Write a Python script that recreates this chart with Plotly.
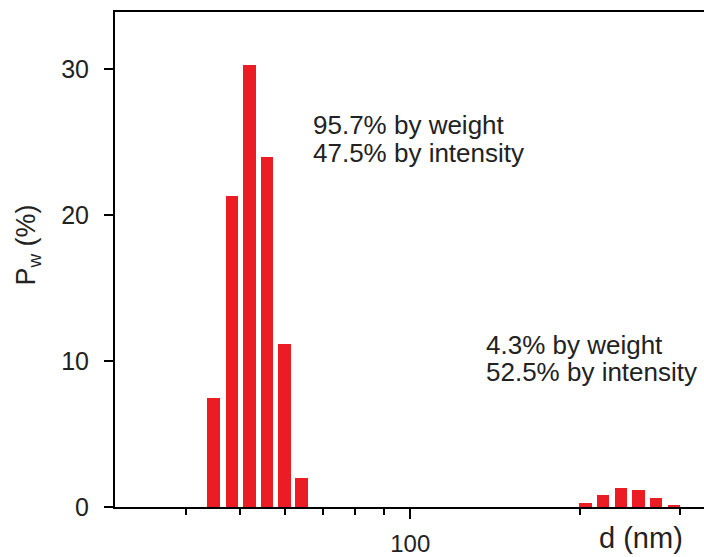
import numpy as np
import plotly.graph_objects as go

# Data: bin centres (nm) and weight fraction P_w (%)
d_main = [44.8, 48.3, 51.9, 55.8, 59.9, 64.2]
pw_main = [7.5, 21.3, 30.3, 24.0, 11.2, 2.0]
d_large = [204.3, 219.5, 236.2, 253.8, 272.5, 293.3]
pw_large = [0.3, 0.85, 1.3, 1.15, 0.65, 0.15]

x_major_ticks = [100]
x_major_labels = ["100"]
x_minor_ticks = [40, 50, 60, 70, 80, 90, 200, 300]
y_ticks = [0, 10, 20, 30]

W, H = 704, 557
ML, MR, MT, MB = 115, 0, 12, 47
PW, PH = W - ML - MR, H - MT - MB


def px(xp):
    return (xp - ML) / PW


def py(yp):
    return (H - MB - yp) / PH


RED = "#ec1c24"
FONT = "Liberation Sans, Arial, sans-serif"
bar_w = 0.0222

fig = go.Figure()
fig.add_trace(go.Bar(x=np.log10(d_main), y=pw_main, width=bar_w,
                     marker=dict(color=RED, line=dict(width=0)), showlegend=False))
fig.add_trace(go.Bar(x=np.log10(d_large), y=pw_large, width=bar_w,
                     marker=dict(color=RED, line=dict(width=0)), showlegend=False))

fig.update_layout(
    width=W, height=H,
    margin=dict(l=ML, r=MR, t=MT, b=MB),
    paper_bgcolor="white", plot_bgcolor="white",
    font=dict(family=FONT, color="#222"),
    bargap=0,
    xaxis=dict(
        range=[np.log10(30), 2.5204],
        showgrid=False, zeroline=False,
        showline=True, linecolor="black", linewidth=2, mirror=False,
        ticks="outside", ticklen=10, tickwidth=2, tickcolor="black",
        tickvals=np.log10(x_major_ticks), ticktext=x_major_labels,
        tickfont=dict(size=24, color="#222"),
        ticklabelstandoff=4,
        minor=dict(tickvals=np.log10(x_minor_ticks), ticks="outside",
                   ticklen=6, tickwidth=2, tickcolor="black", showgrid=False),
    ),
    xaxis2=dict(
        overlaying="x", side="top", matches="x",
        showgrid=False, zeroline=False, showticklabels=False, ticks="",
        showline=True, linecolor="black", linewidth=2,
    ),
    yaxis=dict(
        range=[0, 33.93],
        showgrid=False, zeroline=False,
        showline=True, linecolor="black", linewidth=2,
        ticks="outside", ticklen=9, tickwidth=2, tickcolor="black",
        tickvals=y_ticks, tickfont=dict(size=25, color="#222"),
        ticklabelstandoff=10,
    ),
)
# invisible trace to anchor the top axis line
fig.add_trace(go.Scatter(x=[np.log10(d_main[0])], y=[0], xaxis="x2", mode="markers",
                         marker=dict(opacity=0), showlegend=False, hoverinfo="skip"))

ann = [
    dict(text="95.7% by weight", x=px(311), y=py(126), xanchor="left", yanchor="middle", size=26),
    dict(text="47.5% by intensity", x=px(311), y=py(153.5), xanchor="left", yanchor="middle", size=26),
    dict(text="4.3% by weight", x=px(484), y=py(347), xanchor="left", yanchor="middle", size=26),
    dict(text="52.5% by intensity", x=px(484), y=py(374.5), xanchor="left", yanchor="middle", size=26),
    dict(text="d (nm)", x=px(641), y=py(541), xanchor="center", yanchor="middle", size=29),
]
for a in ann:
    fig.add_annotation(text=a["text"], x=a["x"], y=a["y"], xref="paper", yref="paper",
                       xanchor=a["xanchor"], yanchor=a["yanchor"], showarrow=False,
                       font=dict(size=a["size"], family=FONT, color="#222"))

fig.add_annotation(text="P<sub>w</sub> (%)", x=px(28), y=py(247), xref="paper", yref="paper",
                   xanchor="center", yanchor="middle", textangle=-90, showarrow=False,
                   font=dict(size=27, family=FONT, color="#222"))

fig.write_html(
    "out.html",
    config={"displayModeBar": False},
    post_script="document.body.style.margin='0';document.documentElement.style.overflow='hidden';document.body.style.overflow='hidden';",
)
